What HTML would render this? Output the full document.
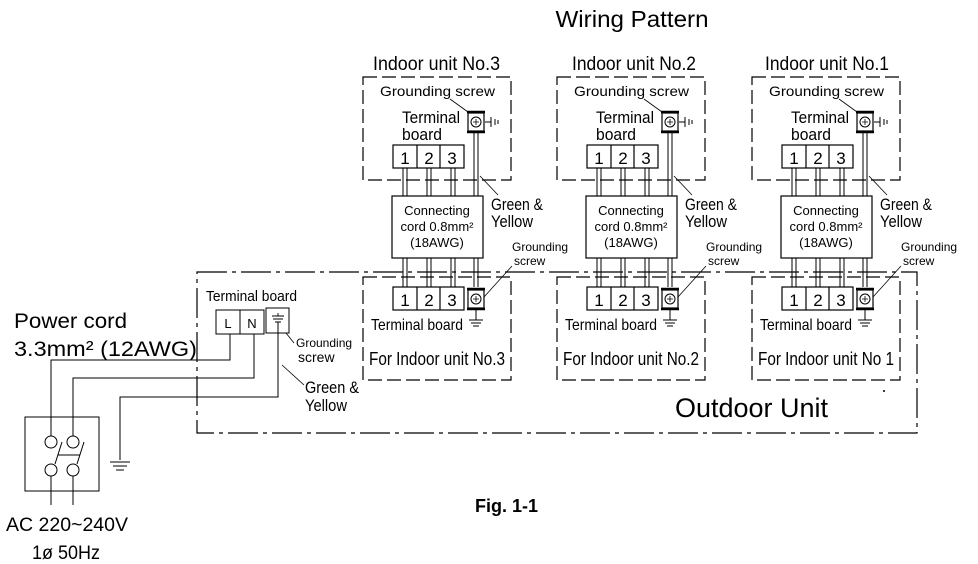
<!DOCTYPE html>
<html><head><meta charset="utf-8"><style>
html,body{margin:0;padding:0;background:#fff;}
svg{display:block;font-family:"Liberation Sans",Arial,sans-serif;}
</style></head><body>
<svg width="978" height="564" viewBox="0 0 978 564" xmlns="http://www.w3.org/2000/svg">
<defs>
<g id="screw">
  <rect x="-8" y="-9" width="16" height="18" fill="#fff" stroke="#000" stroke-width="1.2"/>
  <line x1="-9" y1="-10" x2="9" y2="-10" stroke="#000" stroke-width="2.5"/>
  <line x1="-9" y1="10" x2="9" y2="10" stroke="#000" stroke-width="2.5"/>
  <circle cx="0" cy="0" r="5" fill="none" stroke="#000" stroke-width="1"/>
  <path d="M-3 0 L3 0 M0 -3 L0 3" stroke="#000" stroke-width="0.8"/>
</g>
<g id="unit">
  <rect x="363" y="77" width="148" height="103" fill="none" stroke="#000" stroke-width="1.2" stroke-dasharray="14,5"/>
  <text x="380" y="96" font-size="14" textLength="115" lengthAdjust="spacingAndGlyphs">Grounding screw</text>
  <line x1="450" y1="99" x2="468" y2="112" stroke="#000" stroke-width="0.8"/>
  <text x="402" y="123" font-size="17" textLength="58" lengthAdjust="spacingAndGlyphs">Terminal</text>
  <text x="402" y="140" font-size="17" textLength="40" lengthAdjust="spacingAndGlyphs">board</text>
  <use href="#screw" transform="translate(476,122)"/>
  <path d="M485 122 H491 M491 117 V127 M495 119 V125 M498 120 V124" stroke="#000" stroke-width="1" fill="none"/>
  <rect x="393" y="145" width="71" height="23" fill="#fff" stroke="#000" stroke-width="1.2"/>
  <line x1="417" y1="145" x2="417" y2="168" stroke="#000" stroke-width="1.2"/>
  <line x1="440" y1="145" x2="440" y2="168" stroke="#000" stroke-width="1.2"/>
  <text x="405" y="164" font-size="17" text-anchor="middle">1</text>
  <text x="429" y="164" font-size="17" text-anchor="middle">2</text>
  <text x="452" y="164" font-size="17" text-anchor="middle">3</text>
  <g stroke="#000" stroke-width="1" fill="none">
    <path d="M403 168 V196 M407 168 V196 M427 168 V196 M431 168 V196 M451 168 V196 M455 168 V196"/>
    <path d="M474 133 V196 M478 133 V196"/>
    <path d="M403 258 V287 M407 258 V287 M427 258 V287 M431 258 V287 M451 258 V287 M455 258 V287"/>
    <path d="M474 258 V287 M478 258 V287"/>
  </g>
  <line x1="480" y1="176" x2="498" y2="195" stroke="#000" stroke-width="0.8"/>
  <text x="491" y="210" font-size="17" textLength="52" lengthAdjust="spacingAndGlyphs">Green &amp;</text>
  <text x="491" y="227" font-size="17" textLength="42" lengthAdjust="spacingAndGlyphs">Yellow</text>
  <rect x="392" y="196" width="91" height="62" fill="#fff" stroke="#000" stroke-width="1.2"/>
  <text x="437" y="215" font-size="13" text-anchor="middle">Connecting</text>
  <text x="437" y="231" font-size="13" text-anchor="middle">cord 0.8mm²</text>
  <text x="437" y="247" font-size="13" text-anchor="middle">(18AWG)</text>
  <text x="512" y="251" font-size="12">Grounding</text>
  <text x="514" y="265" font-size="12">screw</text>
  <line x1="512" y1="266" x2="484" y2="297" stroke="#000" stroke-width="0.8"/>
  <rect x="363" y="277" width="148" height="103" fill="none" stroke="#000" stroke-width="1.2" stroke-dasharray="14,5"/>
  <rect x="393" y="287" width="71" height="23" fill="#fff" stroke="#000" stroke-width="1.2"/>
  <line x1="417" y1="287" x2="417" y2="310" stroke="#000" stroke-width="1.2"/>
  <line x1="440" y1="287" x2="440" y2="310" stroke="#000" stroke-width="1.2"/>
  <text x="405" y="306" font-size="17" text-anchor="middle">1</text>
  <text x="429" y="306" font-size="17" text-anchor="middle">2</text>
  <text x="452" y="306" font-size="17" text-anchor="middle">3</text>
  <use href="#screw" transform="translate(476,299)"/>
  <path d="M476 310 V320 M469 320 H483 M471 323 H481 M473 326 H479" stroke="#000" stroke-width="1" fill="none"/>
  <text x="371" y="330" font-size="16" textLength="92" lengthAdjust="spacingAndGlyphs">Terminal board</text>
</g>
</defs>

<text x="632" y="27" font-size="23" text-anchor="middle" textLength="153" lengthAdjust="spacingAndGlyphs">Wiring Pattern</text>

<rect x="197" y="272" width="720" height="161" fill="none" stroke="#000" stroke-width="1.2" stroke-dasharray="30,5,4,5"/>
<text x="675" y="417" font-size="27" textLength="153" lengthAdjust="spacingAndGlyphs">Outdoor Unit</text>
<circle cx="884" cy="391" r="1" fill="#000"/>

<use href="#unit"/>
<use href="#unit" transform="translate(194,0)"/>
<use href="#unit" transform="translate(389,0)"/>
<text x="373" y="70" font-size="19" textLength="127" lengthAdjust="spacingAndGlyphs">Indoor unit No.3</text>
<text x="572" y="70" font-size="19" textLength="124" lengthAdjust="spacingAndGlyphs">Indoor unit No.2</text>
<text x="765" y="70" font-size="19" textLength="124" lengthAdjust="spacingAndGlyphs">Indoor unit No.1</text>
<text x="369" y="365" font-size="18" textLength="136" lengthAdjust="spacingAndGlyphs">For Indoor unit No.3</text>
<text x="563" y="365" font-size="18" textLength="136" lengthAdjust="spacingAndGlyphs">For Indoor unit No.2</text>
<text x="758" y="365" font-size="18" textLength="136" lengthAdjust="spacingAndGlyphs">For Indoor unit No 1</text>

<text x="206" y="301" font-size="15" textLength="91" lengthAdjust="spacingAndGlyphs">Terminal board</text>
<rect x="216" y="310" width="48" height="24" fill="#fff" stroke="#000" stroke-width="1"/>
<line x1="240" y1="310" x2="240" y2="334" stroke="#000" stroke-width="1"/>
<text x="228" y="328" font-size="13" text-anchor="middle">L</text>
<text x="252" y="328" font-size="13" text-anchor="middle">N</text>
<rect x="266" y="308" width="23" height="25" fill="#fff" stroke="#000" stroke-width="1"/>
<path d="M278 313 V316 M272 316 H284 M273 319 H283 M275 322 H281" stroke="#000" stroke-width="0.9" fill="none"/>
<line x1="286" y1="333" x2="294" y2="343" stroke="#000" stroke-width="0.8"/>
<text x="296" y="347" font-size="12">Grounding</text>
<text x="298" y="362" font-size="14">screw</text>
<line x1="282" y1="365" x2="304" y2="385" stroke="#000" stroke-width="0.8"/>
<text x="305" y="393" font-size="17" textLength="54" lengthAdjust="spacingAndGlyphs">Green &amp;</text>
<text x="305" y="411" font-size="17" textLength="42" lengthAdjust="spacingAndGlyphs">Yellow</text>

<g stroke="#000" stroke-width="1" fill="none">
  <path d="M230 334 V360 H51 V436"/>
  <path d="M254 334 V378 H73 V436"/>
  <path d="M278 322 V397 H120 V460"/>
  <path d="M110 462 H130 M113 466 H127 M116 470 H124"/>
  <rect x="25" y="417" width="74" height="74"/>
  <circle cx="51" cy="442" r="6"/><circle cx="73" cy="442" r="6"/>
  <circle cx="51" cy="470" r="6"/><circle cx="73" cy="470" r="6"/>
  <path d="M55 464 L62 442 M77 464 L84 442 M58 455 H80"/>
  <path d="M51 476 V505 M73 476 V505"/>
</g>

<text x="14" y="328" font-size="21" textLength="113" lengthAdjust="spacingAndGlyphs">Power cord</text>
<text x="14" y="356" font-size="21" textLength="183" lengthAdjust="spacingAndGlyphs">3.3mm² (12AWG)</text>
<text x="6" y="531" font-size="19" textLength="122" lengthAdjust="spacingAndGlyphs">AC 220~240V</text>
<text x="32" y="559" font-size="19" textLength="68" lengthAdjust="spacingAndGlyphs">1ø 50Hz</text>
<text x="475" y="512" font-size="18" font-weight="bold">Fig. 1-1</text>
</svg>
</body></html>
